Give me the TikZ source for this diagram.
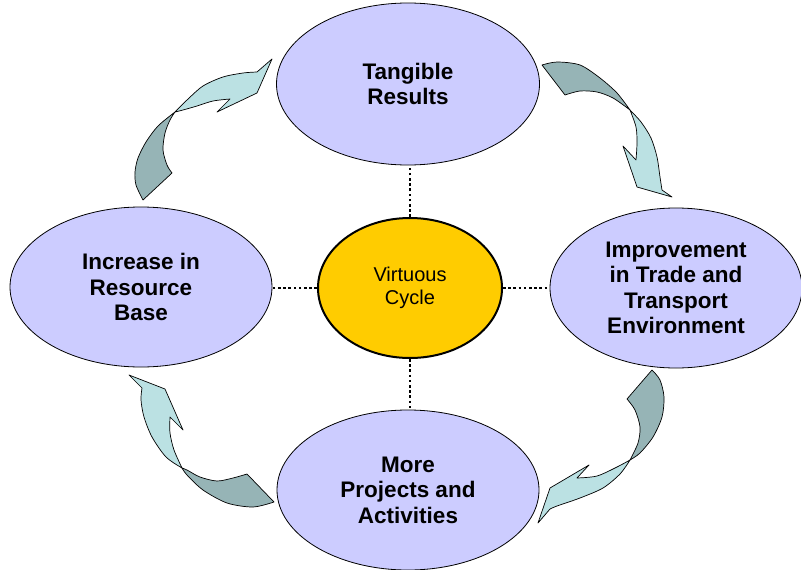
\documentclass[tikz,border=0pt]{standalone}
\usepackage{fontspec}
\setmainfont{Liberation Sans}
\usetikzlibrary{shapes.geometric}
\definecolor{lav}{HTML}{CCCCFF}
\definecolor{gold}{HTML}{FFCC00}
\definecolor{lightteal}{HTML}{BBE1E3}
\definecolor{darkteal}{HTML}{96B4B6}
\begin{document}
\begin{tikzpicture}[x=1pt,y=-1pt,
  bubble/.style={ellipse, draw=black, line width=0.8pt, fill=lav, inner sep=0pt, align=center,
    font=\fontsize{22.5}{25.5}\selectfont\bfseries},
  hub/.style={ellipse, draw=black, line width=2pt, fill=gold, inner sep=0pt, align=center,
    font=\fontsize{20}{23.5}\selectfont},
  dotline/.style={line width=2.6pt, dash pattern=on 2.6pt off 2.6pt, black},
  backpart/.style={fill=darkteal, draw=black, line width=0.7pt, line join=round},
  frontpart/.style={fill=lightteal, draw=black, line width=0.7pt, line join=round}]
\useasboundingbox (0,0) rectangle (801,570);
\fill[white] (0,0) rectangle (801,570);

% arrow: left -> top
\filldraw[backpart] plot[smooth] coordinates {(143,200) (136,185) (135,172) (138,158) (146,142) (158,126) (175,112)}
  -- plot[smooth] coordinates {(175,112) (170,120) (165,133) (163,150) (167,165) (172,173)} -- cycle;
\filldraw[frontpart] plot[smooth] coordinates {(175,112) (187,100) (203,86) (223,77) (243,73) (257,72)}
  -- (272,59) -- (257,93) -- (217,112) -- (230,99)
  -- plot[smooth] coordinates {(230,99) (213,101) (197,106) (183,110) (175,112)} -- cycle;

% arrow: top -> right
\filldraw[backpart] plot[smooth] coordinates {(542,65) (557,62) (580,65) (600,78) (617,93) (630,110)}
  -- plot[smooth] coordinates {(630,110) (613,98) (597,92) (580,91) (565,95)} -- cycle;
\filldraw[frontpart] plot[smooth] coordinates {(630,110) (641,122) (651,138) (657,157) (660,177) (662,190)}
  -- (672,197) -- (637,187) -- (623,146) -- (636,160)
  -- plot[smooth] coordinates {(636,160) (637,143) (636,127) (630,110)} -- cycle;

% arrow: right -> bottom
\filldraw[backpart] plot[smooth] coordinates {(652,370) (660,380) (664,397) (662,417) (653,437) (640,453) (630,460)}
  -- plot[smooth] coordinates {(630,460) (638,443) (640,427) (635,410) (627,399)} -- cycle;
\filldraw[frontpart] plot[smooth] coordinates {(630,460) (620,474) (603,488) (580,498) (557,506) (550,509)}
  -- (538,523) -- (550,488) -- (589,465) -- (577,478)
  -- plot[smooth] coordinates {(577,478) (597,476) (617,467) (630,460)} -- cycle;

% arrow: bottom -> left
\filldraw[backpart] plot[smooth] coordinates {(274,502) (253,507) (227,503) (203,490) (187,475) (182,468)}
  -- plot[smooth] coordinates {(182,468) (187,470) (200,477) (217,481) (233,478) (247,474)} -- cycle;
\filldraw[frontpart] plot[smooth] coordinates {(182,468) (166,457) (152,437) (144,417) (141,400) (142,388)}
  -- (129,375) -- (165,389) -- (183,430) -- (170,417)
  -- plot[smooth] coordinates {(170,417) (170,433) (174,450) (182,468)} -- cycle;

% ellipses
\node[bubble, minimum width=263pt, minimum height=162pt] (top) at (408,84) {Tangible\\Results};
\node[bubble, minimum width=252pt, minimum height=160pt] (right) at (676,288) {Improvement\\in Trade and\\Transport\\Environment};
\node[bubble, minimum width=262pt, minimum height=160pt] (left) at (141,287) {Increase in\\Resource\\Base};
\node[bubble, minimum width=262pt, minimum height=160pt] (bottom) at (408,490) {More\\Projects and\\Activities};
\node[hub, minimum width=184pt, minimum height=140pt] (hub) at (410,288) {Virtuous\\Cycle};

% dotted connectors
\draw[dotline] (hub.north) -- (hub.north |- top.south);
\draw[dotline] (hub.south) -- (hub.south |- bottom.north);
\draw[dotline] (hub.west) -- (hub.west -| left.east);
\draw[dotline] (hub.east) -- (hub.east -| right.west);
\end{tikzpicture}
\end{document}
